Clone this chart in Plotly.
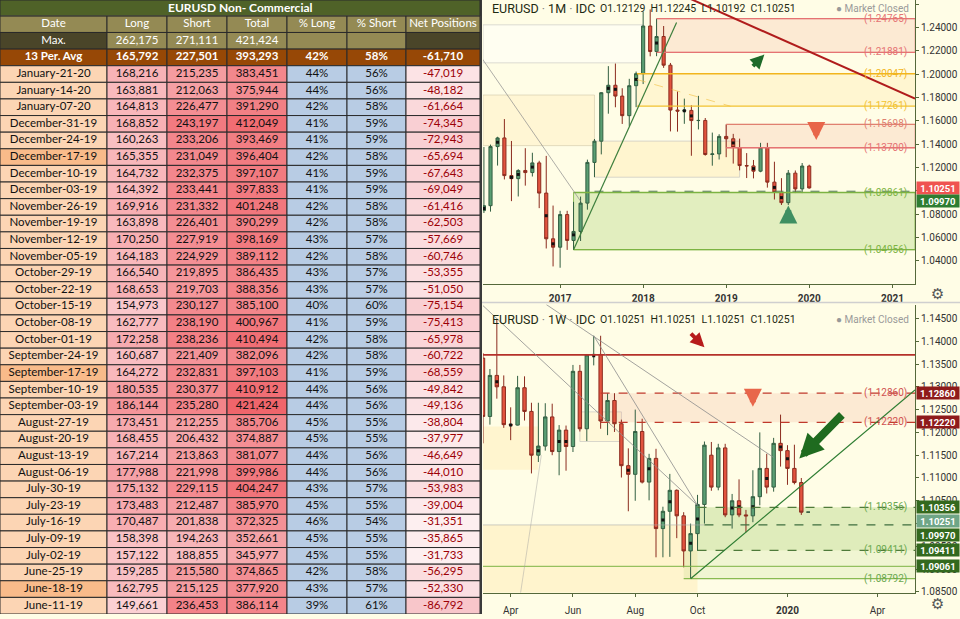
import pandas as pd
import plotly.graph_objects as go

# ---------------- COT table data ----------------
cot_dates = ["January-21-20", "January-14-20", "January-07-20", "December-31-19", "December-24-19",
             "December-17-19", "December-10-19", "December-03-19", "November-26-19", "November-19-19",
             "November-12-19", "November-05-19", "October-29-19", "October-22-19", "October-15-19",
             "October-08-19", "October-01-19", "September-24-19", "September-17-19", "September-10-19",
             "September-03-19", "August-27-19", "August-20-19", "August-13-19", "August-06-19",
             "July-30-19", "July-23-19", "July-16-19", "July-09-19", "July-02-19",
             "June-25-19", "June-18-19", "June-11-19"]
cot_long = [168216, 163881, 164813, 168852, 160263, 165355, 164732, 164392, 169916, 163898,
            170250, 164183, 166540, 168653, 154973, 162777, 172258, 160687, 164272, 180535,
            186144, 173451, 168455, 167214, 177988, 175132, 173483, 170487, 158398, 157122,
            159285, 162795, 149661]
cot_short = [215235, 212063, 226477, 243197, 233206, 231049, 232375, 233441, 231332, 226401,
             227919, 224929, 219895, 219703, 230127, 238190, 238236, 221409, 232831, 230377,
             235280, 212255, 206432, 213863, 221998, 229115, 212487, 201838, 194263, 188855,
             215580, 215125, 236453]
cot_total = [383451, 375944, 391290, 412049, 393469, 396404, 397107, 397833, 401248, 390299,
             398169, 389112, 386435, 388356, 385100, 400967, 410494, 382096, 397103, 410912,
             421424, 385706, 374887, 381077, 399986, 404247, 385970, 372325, 352661, 345977,
             374865, 377920, 386114]
cot_pct_long = [44, 44, 42, 41, 41, 42, 41, 41, 42, 42, 43, 42, 43, 43, 40, 41, 42, 42, 41, 44,
                44, 45, 45, 44, 44, 43, 45, 46, 45, 45, 42, 43, 39]
cot_pct_short = [56, 56, 58, 59, 59, 58, 59, 59, 58, 58, 57, 58, 57, 57, 60, 59, 58, 58, 59, 56,
                 56, 55, 55, 56, 56, 57, 55, 54, 55, 55, 58, 57, 61]
cot_net = [-47019, -48182, -61664, -74345, -72943, -65694, -67643, -69049, -61416, -62503,
           -57669, -60746, -53355, -51050, -75154, -75413, -65978, -60722, -68559, -49842,
           -49136, -38804, -37977, -46649, -44010, -53983, -39004, -31351, -35865, -31733,
           -56295, -52330, -86792]
highlight_dates = ["December-17-19", "September-17-19", "June-18-19"]
max_values = [262175, 271111, 421424]
avg_values = [165792, 227501, 393293]
avg_pct = [42, 58]
avg_net = -61710
col_names = ["Date", "Long", "Short", "Total", "% Long", "% Short", "Net Positions"]
table_title = "EURUSD Non- Commercial"

# ---------------- Monthly EURUSD (Feb-2016 .. Jan-2020) ----------------
m_open = [1.0831, 1.0873, 1.1380, 1.1454, 1.1131, 1.1105, 1.1175, 1.1157, 1.1240, 1.0981, 1.0589,
          1.0517, 1.0797, 1.0575, 1.0652, 1.0895, 1.1244, 1.1426, 1.1842, 1.1906, 1.1813, 1.1645, 1.1902,
          1.2005, 1.2414, 1.2195, 1.2324, 1.2078, 1.1693, 1.1684, 1.1690, 1.1603, 1.1604, 1.1312, 1.1317,
          1.1467, 1.1447, 1.1372, 1.1217, 1.1214, 1.1169, 1.1371, 1.1075, 1.0986, 1.0899, 1.1152, 1.1017,
          1.12129]
m_high = [1.1376, 1.1397, 1.1464, 1.1616, 1.1428, 1.1186, 1.1366, 1.1327, 1.1258, 1.1300, 1.0874,
          1.0829, 1.0829, 1.0906, 1.0951, 1.1268, 1.1445, 1.1846, 1.2070, 1.2092, 1.1880, 1.1961, 1.2023,
          1.2537, 1.2556, 1.2476, 1.2414, 1.2097, 1.1852, 1.1791, 1.1734, 1.1815, 1.1625, 1.1500, 1.1486,
          1.1570, 1.1489, 1.1448, 1.1324, 1.1265, 1.1412, 1.1412, 1.1250, 1.1109, 1.1179, 1.1175, 1.1239,
          1.12245]
m_low = [1.0810, 1.0822, 1.1217, 1.1098, 1.0912, 1.0952, 1.1045, 1.1123, 1.0852, 1.0506, 1.0352,
         1.0341, 1.0494, 1.0493, 1.0570, 1.0839, 1.1118, 1.1313, 1.1662, 1.1717, 1.1574, 1.1554, 1.1718,
         1.1916, 1.2154, 1.2155, 1.2055, 1.1510, 1.1508, 1.1575, 1.1301, 1.1527, 1.1302, 1.1216, 1.1269,
         1.1289, 1.1234, 1.1176, 1.1110, 1.1107, 1.1160, 1.1028, 1.0926, 1.0879, 1.0879, 1.0981, 1.0981,
         1.10192]
m_close = [1.0873, 1.1380, 1.1454, 1.1131, 1.1105, 1.1175, 1.1157, 1.1240, 1.0981, 1.0589, 1.0517,
           1.0797, 1.0575, 1.0652, 1.0895, 1.1244, 1.1426, 1.1842, 1.1906, 1.1813, 1.1645, 1.1902, 1.2005,
           1.2414, 1.2195, 1.2324, 1.2078, 1.1693, 1.1684, 1.1690, 1.1603, 1.1604, 1.1312, 1.1317, 1.1467,
           1.1447, 1.1372, 1.1217, 1.1214, 1.1169, 1.1371, 1.1075, 1.0986, 1.0899, 1.1152, 1.1017, 1.1213,
           1.10251]
m_dates = pd.date_range("2016-02-01", periods=len(m_open), freq="MS")
m_dot_dates = ["2016-02-01", "2016-04-01", "2016-06-01", "2016-07-01", "2016-09-01", "2016-11-01",
               "2016-12-01", "2017-03-01", "2017-08-01", "2017-09-01", "2017-12-01", "2018-03-01",
               "2018-07-01", "2018-08-01", "2019-02-01", "2019-05-01", "2019-08-01", "2019-09-01"]
m_dot_vals = [1.0849, 1.1417, 1.1116, 1.1141, 1.1204, 1.0787, 1.0546, 1.0623, 1.1879, 1.1871,
              1.1956, 1.2268, 1.1687, 1.1643, 1.1411, 1.1191, 1.1030, 1.0942]

# ---------------- Weekly EURUSD (04-Mar-2019 .. 27-Jan-2020) ----------------
w_open = [1.1363, 1.1235, 1.1325, 1.1300, 1.1217, 1.1216, 1.1298, 1.1246, 1.1150, 1.1170, 1.1234,
          1.1158, 1.1205, 1.1169, 1.1334, 1.1208, 1.1370, 1.1371, 1.1225, 1.1270, 1.1219, 1.1127,
          1.1108, 1.1202, 1.1091, 1.1143, 1.0989, 1.1027, 1.1073, 1.1017, 1.0940, 1.0978, 1.1042,
          1.1150, 1.1080, 1.1166, 1.1019, 1.1050, 1.1019, 1.1017, 1.1059, 1.1121, 1.1080, 1.1176,
          1.1160, 1.1121, 1.1090, 1.10251]
w_high = [1.1374, 1.1339, 1.1448, 1.1325, 1.1255, 1.1324, 1.1323, 1.1265, 1.1265, 1.1264, 1.1263,
          1.1216, 1.1215, 1.1348, 1.1348, 1.1372, 1.1412, 1.1412, 1.1286, 1.1286, 1.1228, 1.1165,
          1.1250, 1.1230, 1.1153, 1.1164, 1.1037, 1.1109, 1.1075, 1.1025, 1.1000, 1.1063, 1.1180,
          1.1179, 1.1175, 1.1175, 1.1065, 1.1097, 1.1030, 1.1117, 1.1200, 1.1153, 1.1188, 1.1239,
          1.1172, 1.1173, 1.1100, 1.10251]
w_low = [1.1176, 1.1217, 1.1274, 1.1210, 1.1183, 1.1215, 1.1226, 1.1110, 1.1135, 1.1160, 1.1150,
         1.1106, 1.1116, 1.1157, 1.1202, 1.1181, 1.1347, 1.1208, 1.1194, 1.1201, 1.1101, 1.1027,
         1.1050, 1.1088, 1.1051, 1.0926, 1.0926, 1.0927, 1.0968, 1.0904, 1.0879, 1.0940, 1.1000,
         1.1072, 1.1073, 1.1014, 1.0989, 1.1014, 1.0981, 1.1003, 1.1040, 1.1066, 1.1070, 1.1125,
         1.1085, 1.1086, 1.1019, 1.10251]
w_close = [1.1235, 1.1325, 1.1300, 1.1217, 1.1216, 1.1298, 1.1246, 1.1150, 1.1170, 1.1234, 1.1158,
           1.1205, 1.1169, 1.1334, 1.1208, 1.1370, 1.1371, 1.1225, 1.1270, 1.1219, 1.1127, 1.1108,
           1.1202, 1.1091, 1.1143, 1.0989, 1.1027, 1.1073, 1.1017, 1.0940, 1.0978, 1.1042, 1.1172,
           1.1080, 1.1166, 1.1019, 1.1050, 1.1019, 1.1017, 1.1059, 1.1121, 1.1080, 1.1176, 1.1160,
           1.1121, 1.1090, 1.1025, 1.10251]
w_dates = pd.date_range("2019-03-04", periods=len(w_open), freq="W-MON")
w_dot_dates = ["2019-03-18", "2019-04-01", "2019-04-29", "2019-05-20", "2019-05-27", "2019-06-24",
               "2019-07-29", "2019-08-19", "2019-09-02", "2019-09-09", "2019-09-30", "2019-10-07",
               "2019-11-11", "2019-11-18", "2019-12-02", "2019-12-16", "2019-12-30", "2020-01-06"]
w_dot_vals = [1.1311, 1.1216, 1.1160, 1.1180, 1.1180, 1.1368, 1.1117, 1.1120, 1.1008, 1.1048,
              1.0957, 1.1010, 1.1034, 1.1037, 1.1037, 1.1099, 1.1168, 1.1142]

# ---------------- levels / labels ----------------
m_title = "EURUSD · 1M · IDC"
m_ohlc = "O1.12129  H1.12245  L1.10192  C1.10251"
w_title = "EURUSD · 1W · IDC"
w_ohlc = "O1.10251  H1.10251  L1.10251  C1.10251"
m_levels = [1.24765, 1.21881, 1.20047, 1.17261, 1.15698, 1.13700, 1.09861, 1.04956]
m_level_colors = ["#e57373", "#e57373", "#f2b51e", "#f2c230", "#e08070", "#e57373", "#7cb342", "#7cb342"]
w_levels = [1.12860, 1.12220, 1.10356, 1.09411, 1.08792]
w_level_colors = ["#d05050", "#d05050", "#6aa84f", "#6aa84f", "#6aa84f"]
m_price_tags = [1.10251, 1.09970]
w_price_tags = [1.12860, 1.12220, 1.10356, 1.10251, 1.09970, 1.09411, 1.09061]
m_tick_vals = ["2017-01-01", "2018-01-01", "2019-01-01", "2020-01-01", "2021-01-01"]
m_tick_text = ["2017", "2018", "2019", "2020", "2021"]
w_tick_vals = ["2019-04-01", "2019-06-03", "2019-08-05", "2019-10-07", "2020-01-06", "2020-04-06"]
w_tick_text = ["Apr", "Jun", "Aug", "Oct", "<b>2020</b>", "Apr"]

# ---------------- geometry ----------------
W, H = 960, 619
BG = "#fffde6"
M_RANGE = ["2016-01-28", "2021-04-10"]
W_RANGE = ["2019-03-04", "2020-05-14"]
M_YR = [1.0204, 1.2637]
W_YR = [1.0848, 1.14805]
X_DOM = [483 / W, 915 / W]
M_DOM = [1 - 286 / H, 1.0]
W_DOM = [1 - 597.7 / H, 1 - 307 / H]
COL_W = [107, 60, 60, 60, 60, 59, 74]


def px(x):
    return x / W


def py(y):
    return 1 - y / H


def lerp_color(c0, c1, t):
    a = [int(c0[i:i + 2], 16) for i in (1, 3, 5)]
    b = [int(c1[i:i + 2], 16) for i in (1, 3, 5)]
    return "#" + "".join(f"{round(a[k] + (b[k] - a[k]) * t):02x}" for k in range(3))


def scale(vals, c_lo, c_hi):
    lo, hi = min(vals), max(vals)
    return [lerp_color(c_lo, c_hi, (v - lo) / (hi - lo)) for v in vals]


fig = go.Figure()

# ---------------- table (bars as cells on their own axes) ----------------
n = len(cot_dates)
fmt = lambda v: f"{v:,}"
col_text = [
    ["Max.", "<b>13 Per. Avg</b>"] + cot_dates,
    [fmt(max_values[0]), f"<b>{fmt(avg_values[0])}</b>"] + [fmt(v) for v in cot_long],
    [fmt(max_values[1]), f"<b>{fmt(avg_values[1])}</b>"] + [fmt(v) for v in cot_short],
    [fmt(max_values[2]), f"<b>{fmt(avg_values[2])}</b>"] + [fmt(v) for v in cot_total],
    ["", f"<b>{avg_pct[0]}%</b>"] + [f"{v}%" for v in cot_pct_long],
    ["", f"<b>{avg_pct[1]}%</b>"] + [f"{v}%" for v in cot_pct_short],
    ["", f"<b>{fmt(avg_net)}</b>"] + [fmt(v) for v in cot_net],
]
DARK, KHAKI, BROWN = "#4a4529", "#948a54", "#974806"
date_fill = ["#f9bb8a" if d in highlight_dates else "#fcd5b4" for d in cot_dates]
fills = [
    [DARK, BROWN] + date_fill,
    [KHAKI, BROWN] + scale(cot_long, "#fbd0d3", "#f5959a"),
    [KHAKI, BROWN] + scale(cot_short, "#f8bcbf", "#f27a80"),
    [KHAKI, BROWN] + scale(cot_total, "#f6a9ad", "#f0656b"),
    [KHAKI, BROWN] + ["#b8cce4"] * n,
    [KHAKI, BROWN] + ["#b8cce4"] * n,
    [DARK, BROWN] + scale(cot_net, "#f8c6ca", "#fdeff0"),
]
fcolors = [["white", "white"] + ["#111111"] * n for _ in range(6)]
fcolors.append(["white", "white"] + ["#9c0006"] * n)

rows = list(range(n + 3))
left = 0
for j, w in enumerate(COL_W):
    fig.add_trace(go.Bar(y=rows, x=[w] * len(rows), base=[left] * len(rows), orientation="h", width=1,
                         marker=dict(color=[KHAKI] + fills[j], line=dict(color="#2a2a2a", width=1)),
                         xaxis="x3", yaxis="y3", hoverinfo="skip", showlegend=False))
    fig.add_trace(go.Scatter(x=[left + w / 2] * len(rows), y=rows, mode="text",
                             text=[col_names[j]] + col_text[j], textposition="middle center",
                             textfont=dict(family="Lato", size=11.5, color=["white"] + fcolors[j]),
                             xaxis="x3", yaxis="y3", hoverinfo="skip", showlegend=False))
    left += w

# ---------------- candlesticks ----------------
inc = dict(fillcolor="#5a9e73", line=dict(color="#335f42", width=1))
dec = dict(fillcolor="#e2533e", line=dict(color="#8b2b1e", width=1))
fig.add_trace(go.Candlestick(x=m_dates, open=m_open, high=m_high, low=m_low, close=m_close,
                             increasing=inc, decreasing=dec, xaxis="x", yaxis="y",
                             whiskerwidth=0, showlegend=False))
fig.add_trace(go.Candlestick(x=w_dates, open=w_open, high=w_high, low=w_low, close=w_close,
                             increasing=inc, decreasing=dec, xaxis="x2", yaxis="y2",
                             whiskerwidth=0, showlegend=False))
fig.add_trace(go.Scatter(x=m_dot_dates, y=m_dot_vals, mode="markers", xaxis="x", yaxis="y",
                         marker=dict(symbol="square", size=3, color="#111"), showlegend=False))
fig.add_trace(go.Scatter(x=w_dot_dates, y=w_dot_vals, mode="markers", xaxis="x2", yaxis="y2",
                         marker=dict(symbol="square", size=3, color="#111"), showlegend=False))

shapes = []


def rect(xr, yr, x0, x1, y0, y1, fill, line="rgba(0,0,0,0)", lw=0, layer="below"):
    shapes.append(dict(type="rect", xref=xr, yref=yr, x0=x0, x1=x1, y0=y0, y1=y1,
                       fillcolor=fill, line=dict(color=line, width=lw), layer=layer))


def seg(xr, yr, x0, y0, x1, y1, color, width=1, dash="solid", layer="above"):
    shapes.append(dict(type="line", xref=xr, yref=yr, x0=x0, x1=x1, y0=y0, y1=y1,
                       line=dict(color=color, width=width, dash=dash), layer=layer))


# --- monthly chart decorations ---
ME = M_RANGE[1]
rect("x", "y", M_RANGE[0], "2018-01-01", 1.2098, 1.2424, "rgba(255,255,255,0.45)", "rgba(185,185,185,0.5)", 1)
rect("x", "y", M_RANGE[0], "2017-06-01", 1.1388, 1.1822, "rgba(255,222,140,0.20)", "rgba(200,190,160,0.5)", 1)
rect("x", "y", "2017-06-01", "2019-03-01", 1.1117, 1.1427, "rgba(255,222,140,0.25)", "rgba(190,190,190,0.6)", 1)
rect("x", "y", "2018-03-01", ME, m_levels[1], m_levels[0], "rgba(240,150,130,0.18)", "rgba(229,115,115,0.5)", 1)
rect("x", "y", "2017-12-05", ME, m_levels[3], m_levels[2], "rgba(255,210,100,0.16)")
rect("x", "y", "2019-01-01", ME, m_levels[5], m_levels[4], "rgba(240,150,130,0.18)", "rgba(229,115,115,0.5)", 1)
rect("x", "y", "2017-03-01", ME, m_levels[7], m_levels[6], "rgba(139,195,74,0.25)", "rgba(124,179,66,0.8)", 1)
m_starts = ["2018-03-01", "2018-03-01", "2017-12-05", "2017-12-05", "2019-01-01", "2019-01-01",
            "2017-03-01", "2017-03-01"]
for lv, c, s in zip(m_levels, m_level_colors, m_starts):
    seg("x", "y", s, lv, ME, lv, c, 1.3)
seg("x", "y", "2017-06-01", 1.0997, ME, 1.0997, "#4f7a4f", 1, "dash")
seg("x", "y", "2017-12-05", 1.1955, "2019-01-20", 1.1726, "rgba(242,190,60,0.6)", 1, "dash")
seg("x", "y", "2018-06-01", 1.2696, ME, 1.1791, "#b01c1c", 2)
seg("x", "y", "2017-03-01", m_levels[7], "2018-05-28", 1.2443, "#3d7f3d", 1.2)
seg("x", "y", "2016-01-25", 1.2132, "2017-04-01", 1.0912, "rgba(140,140,140,0.7)", 1)

# --- weekly chart decorations ---
WE = W_RANGE[1]
rect("x2", "y2", W_RANGE[0], "2019-04-29", 1.1118, 1.1213, "rgba(255,222,140,0.25)")
rect("x2", "y2", W_RANGE[0], "2019-10-07", W_YR[0], 1.0997, "rgba(255,222,140,0.28)")
rect("x2", "y2", "2019-06-10", "2019-07-22", 1.1180, 1.1245, "rgba(255,222,140,0.15)", "rgba(190,190,190,0.6)", 1)
rect("x2", "y2", "2019-07-01", WE, w_levels[1], w_levels[0], "rgba(240,150,130,0.18)")
rect("x2", "y2", "2019-10-07", WE, w_levels[3], w_levels[2], "rgba(139,195,74,0.28)")
rect("x2", "y2", "2019-09-23", WE, w_levels[4], w_levels[3], "rgba(139,195,74,0.13)")
seg("x2", "y2", W_RANGE[0], 1.1370, WE, 1.1370, "#b5302a", 1.6)
seg("x2", "y2", "2019-07-01", w_levels[0], WE, w_levels[0], "#c0392b", 1.3, "dash")
seg("x2", "y2", "2019-07-01", w_levels[1], WE, w_levels[1], "#c0392b", 1.3, "dash")
seg("x2", "y2", "2019-10-07", w_levels[2], WE, w_levels[2], "#4f7a3a", 1.3, "dash")
seg("x2", "y2", "2019-10-07", w_levels[3], WE, w_levels[3], "#4f7a3a", 1.3, "dash")
seg("x2", "y2", W_RANGE[0], 1.0997, "2019-10-14", 1.0997, "rgba(170,170,170,0.6)", 1)
seg("x2", "y2", "2019-10-14", 1.0997, WE, 1.0997, "#3f6e3f", 1.2, "dash")
seg("x2", "y2", W_RANGE[0], 1.09061, WE, 1.09061, "rgba(124,179,66,0.8)", 1.3)
seg("x2", "y2", "2019-09-23", w_levels[4], WE, w_levels[4], "rgba(124,179,66,0.9)", 1.3)
seg("x2", "y2", "2019-09-30", 1.0879, WE, 1.1293, "#2e7d32", 1.2)
seg("x2", "y2", W_RANGE[0], 1.1478, "2019-10-07", 1.1040, "rgba(140,140,140,0.8)", 1)
seg("x2", "y2", "2019-06-24", 1.1412, "2019-10-07", 1.1040, "rgba(140,140,140,0.8)", 1)
seg("x2", "y2", "2019-05-07", 1.14805, "2019-12-23", 1.1145, "rgba(140,140,140,0.8)", 1)
seg("x2", "y2", "2019-04-11", W_YR[0], "2019-05-02", 1.1150, "rgba(160,160,160,0.45)", 1)

# separator, borders, table title bar
seg("paper", "paper", px(481), py(305), 1, py(305), "#cfcfcf", 1.5)
seg("paper", "paper", px(481), 0, px(481), 1, "#3a3a3a", 2)
rect("paper", "paper", 0, px(480), py(16), 1, "#4f6228", "#2a2a2a", 1, "above")

ann = []
ann.append(dict(xref="paper", yref="paper", x=px(240), y=py(8), xanchor="center", yanchor="middle",
                text=f"<b>{table_title}</b>", showarrow=False,
                font=dict(family="Lato", size=12, color="white")))

for title, ohlc, ytop in [(m_title, m_ohlc, 9), (w_title, w_ohlc, 322)]:
    ann.append(dict(xref="paper", yref="paper", x=px(490), y=py(ytop), xanchor="left", yanchor="middle",
                    text=title.replace("·", "<span style='color:#888'>·</span>"), showarrow=False,
                    font=dict(family="Roboto", size=12.5, color="#1e2a12")))
    ann.append(dict(xref="paper", yref="paper", x=px(598), y=py(ytop), xanchor="left", yanchor="middle",
                    text=ohlc, showarrow=False, font=dict(family="Roboto", size=10.5, color="#1e2a12")))
    ann.append(dict(xref="paper", yref="paper", x=px(911), y=py(ytop), xanchor="right", yanchor="middle",
                    text="<span style='color:#999'>●</span> Market Closed", showarrow=False,
                    font=dict(family="Roboto", size=10, color="#9a9a9a")))

for lv, c in zip(m_levels, m_level_colors):
    ann.append(dict(xref="paper", yref="y", x=px(909), y=lv, xanchor="right", yanchor="middle",
                    text=f"({lv:.5f})", showarrow=False, font=dict(family="Roboto", size=10, color=c)))
for lv, c in zip(w_levels, w_level_colors):
    ann.append(dict(xref="paper", yref="y2", x=px(909), y=lv, xanchor="right", yanchor="middle",
                    text=f"({lv:.5f})", showarrow=False, font=dict(family="Roboto", size=10, color=c)))

m_tag_bg = ["#ef5350", "#2e7d32"]
m_tag_shift = [0, -10]
for v, bg, sh in zip(m_price_tags, m_tag_bg, m_tag_shift):
    ann.append(dict(xref="paper", yref="y", x=px(916), y=v, yshift=sh, xanchor="left", yanchor="middle",
                    text=f"<b>{v:.5f}</b>", showarrow=False, bgcolor=bg, width=42, height=12, borderpad=0,
                    font=dict(family="Roboto", size=9.5, color="white")))
w_tag_bg = ["#8e1b1b", "#8e1b1b", "#33691e", "#6fa587", "#33691e", "#33691e", "#33691e"]
w_tag_shift = [0, 0, 0, -9, -10, 0, 0]
for v, bg, sh in zip(w_price_tags, w_tag_bg, w_tag_shift):
    ann.append(dict(xref="paper", yref="y2", x=px(916), y=v, yshift=sh, xanchor="left", yanchor="middle",
                    text=f"<b>{v:.5f}</b>", showarrow=False, bgcolor=bg, width=42, height=12, borderpad=0,
                    font=dict(family="Roboto", size=9.5, color="white")))


def arrow(xr, yr, x, y, ax, ay, color, w, size=1.0):
    ann.append(dict(xref=xr, yref=yr, x=x, y=y, ax=ax, ay=ay, axref="pixel", ayref="pixel",
                    showarrow=True, arrowhead=2, arrowsize=size, arrowwidth=w, arrowcolor=color, text=""))


arrow("x", "y", "2019-06-18", 1.2169, -13, 13, "#1e6b2a", 4, 0.7)
arrow("x", "y", "2020-02-01", 1.1437, 0, -16, "#e8664a", 6, 0.6)
arrow("x", "y", "2019-10-01", 1.0875, 0, 17, "#3f8f62", 6, 0.6)
arrow("x2", "y2", "2019-10-14", 1.1387, -15, -15, "#b71c1c", 4, 0.7)
arrow("x2", "y2", "2019-12-02", 1.1256, 0, -16, "#e8664a", 6, 0.6)
arrow("x2", "y2", "2020-01-18", 1.1143, 44, -45, "#1f6b1f", 8, 0.6)

for yy in (296, 609):
    ann.append(dict(xref="paper", yref="paper", x=px(937), y=py(yy), xanchor="center", yanchor="middle",
                    text="⚙", showarrow=False, font=dict(family="DejaVu Sans", size=15, color="#555")))

axis_common = dict(showgrid=False, zeroline=False, showline=True, linecolor="#55683a", linewidth=1,
                   ticks="outside", ticklen=3, tickcolor="#55683a",
                   tickfont=dict(family="Roboto", size=10, color="#333"))

fig.update_layout(
    width=W, height=H, margin=dict(l=0, r=0, t=0, b=0),
    paper_bgcolor=BG, plot_bgcolor=BG, showlegend=False, barmode="overlay",
    xaxis=dict(domain=X_DOM, anchor="y", type="date", range=M_RANGE, rangeslider=dict(visible=False),
               tickvals=m_tick_vals, ticktext=[f"<b>{t}</b>" for t in m_tick_text], ticklabelstandoff=2,
               **axis_common),
    yaxis=dict(domain=M_DOM, anchor="x", side="right", range=M_YR, tickformat=".5f",
               tickvals=[1.04, 1.06, 1.08, 1.10, 1.12, 1.14, 1.16, 1.18, 1.20, 1.22, 1.24, 1.26], **axis_common),
    xaxis2=dict(domain=X_DOM, anchor="y2", type="date", range=W_RANGE, rangeslider=dict(visible=False),
                tickvals=w_tick_vals, ticktext=w_tick_text, ticklabelstandoff=5, **axis_common),
    yaxis2=dict(domain=W_DOM, anchor="x2", side="right", range=W_YR, tickformat=".5f", dtick=0.005,
                **axis_common),
    xaxis3=dict(domain=[0, 480 / W], anchor="y3", range=[0, sum(COL_W)], visible=False, fixedrange=True),
    yaxis3=dict(domain=[0, 1 - 16 / H], anchor="x3", range=[len(rows) - 0.5, -0.5], visible=False,
                fixedrange=True),
    shapes=shapes, annotations=ann,
)

fig.write_html("out.html", config={"displayModeBar": False},
               post_script="document.body.style.margin='0';document.body.style.overflow='hidden';")
